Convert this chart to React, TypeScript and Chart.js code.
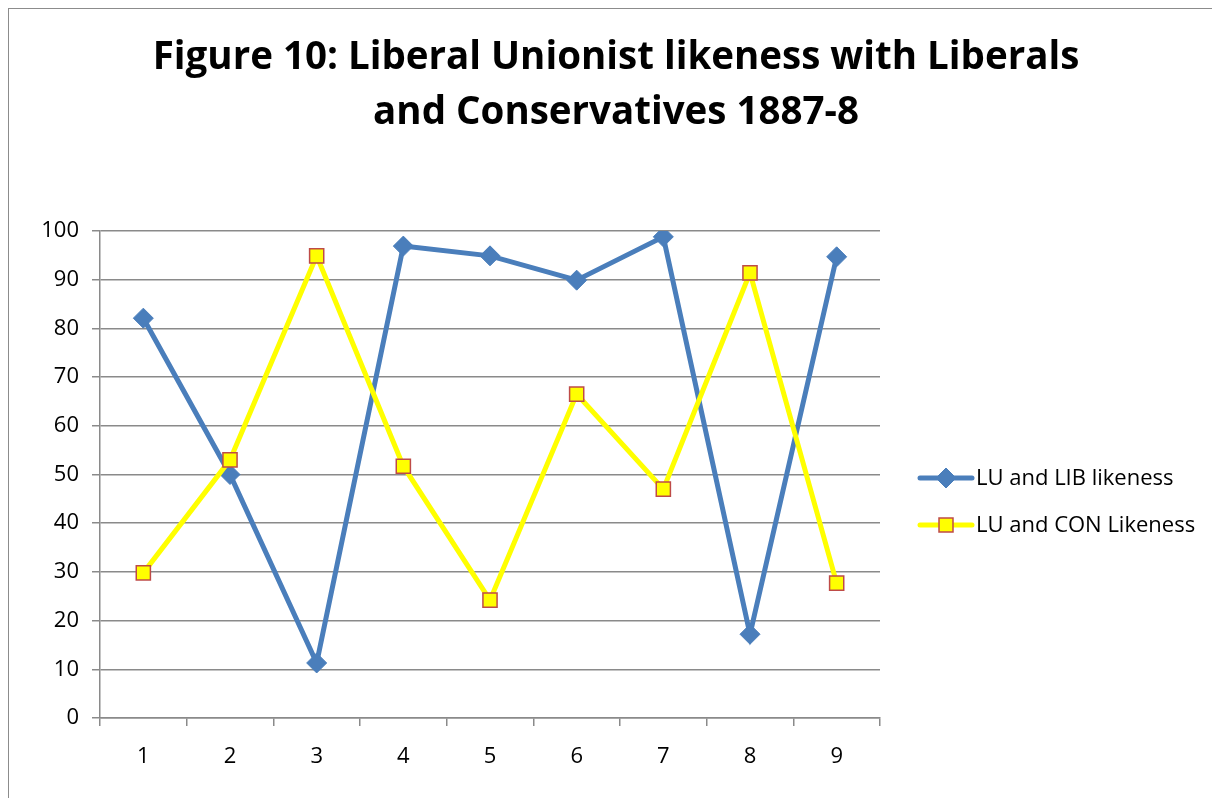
import React, { useEffect, useRef } from "react";
import { Chart, registerables } from "chart.js";

Chart.register(...registerables);

const categories = ["1", "2", "3", "4", "5", "6", "7", "8", "9"];
const libLikeness = [82.1, 50, 11.3, 96.9, 94.9, 89.9, 98.8, 17.2, 94.7];
const conLikeness = [29.8, 53, 94.9, 51.7, 24.2, 66.5, 47, 91.4, 27.7];
const seriesNames = ["LU and LIB likeness", "LU and CON Likeness"];
const titleLines = [
  "Figure 10: Liberal Unionist likeness with Liberals",
  "and Conservatives 1887-8",
];

const FONT = "'Open Sans', 'DejaVu Sans', sans-serif";
const BLUE = "#4A7EBB";
const YELLOW = "#FFFF00";
const MARKER_EDGE = "#BE4B48";
const GRID = "#8A8A8A";

const W = 1211;
const H = 789;

// Title and Excel-style legend (line with a marker) drawn straight onto the canvas
const decorations = {
  id: "decorations",
  afterDraw(chart: Chart) {
    const ctx = chart.ctx;
    ctx.save();
    ctx.fillStyle = "#000";
    ctx.textAlign = "center";
    ctx.textBaseline = "middle";
    ctx.font = `bold 38.5px ${FONT}`;
    ctx.fillText(titleLines[0], 607, 49);
    ctx.fillText(titleLines[1], 607, 104);

    const rows = [469, 516];
    chart.data.datasets.forEach((ds: any, i: number) => {
      const y = rows[i];
      ctx.strokeStyle = ds.borderColor;
      ctx.lineWidth = 5;
      ctx.lineCap = "round";
      ctx.beginPath();
      ctx.moveTo(911, y);
      ctx.lineTo(963, y);
      ctx.stroke();
      ctx.lineWidth = ds.pointBorderWidth;
      ctx.lineCap = "butt";
      ctx.fillStyle = ds.pointBackgroundColor;
      ctx.strokeStyle = ds.pointBorderColor;
      ctx.beginPath();
      if (ds.pointStyle === "rectRot") {
        const r = 10;
        ctx.moveTo(937, y - r);
        ctx.lineTo(937 + r, y);
        ctx.lineTo(937, y + r);
        ctx.lineTo(937 - r, y);
        ctx.closePath();
      } else {
        ctx.rect(937 - 7, y - 7, 14, 14);
      }
      ctx.fill();
      ctx.stroke();
      ctx.fillStyle = "#000";
      ctx.textAlign = "left";
      ctx.font = `22px ${FONT}`;
      ctx.fillText(ds.label, 967, y + 1);
    });
    ctx.restore();
  },
};

export default function App() {
  const canvasRef = useRef<HTMLCanvasElement | null>(null);

  useEffect(() => {
    if (!canvasRef.current) return;
    const chart = new Chart(canvasRef.current, {
      type: "line",
      data: {
        labels: categories,
        datasets: [
          {
            label: seriesNames[0],
            data: libLikeness,
            borderColor: BLUE,
            borderWidth: 5,
            pointStyle: "rectRot",
            pointRadius: 10,
            pointBackgroundColor: BLUE,
            pointBorderColor: BLUE,
            pointBorderWidth: 1,
            tension: 0,
            order: 1,
          },
          {
            label: seriesNames[1],
            data: conLikeness,
            borderColor: YELLOW,
            borderWidth: 5,
            pointStyle: "rect",
            pointRadius: 10,
            pointBackgroundColor: YELLOW,
            pointBorderColor: MARKER_EDGE,
            pointBorderWidth: 1.5,
            tension: 0,
            order: 0,
          },
        ],
      },
      options: {
        responsive: false,
        animation: false,
        devicePixelRatio: 1,
        layout: { padding: { top: 222, right: 340, left: 0, bottom: 0 } },
        plugins: {
          legend: { display: false },
          title: { display: false },
          tooltip: { enabled: false },
        },
        scales: {
          x: {
            offset: true,
            afterFit: (s: any) => {
              s.height = 80;
            },
            grid: {
              offset: true,
              drawOnChartArea: false,
              drawTicks: true,
              tickLength: 8,
              color: GRID,
              lineWidth: 1.5,
            },
            border: { color: GRID, width: 1.5 },
            ticks: {
              color: "#000",
              padding: 18,
              font: { family: FONT, size: 22 },
              maxRotation: 0,
            },
          },
          y: {
            min: 0,
            max: 100,
            afterFit: (s: any) => {
              s.width = 91;
            },
            grid: {
              color: GRID,
              lineWidth: 1.5,
              tickLength: 8,
            },
            border: { color: GRID, width: 1.5 },
            ticks: {
              stepSize: 10,
              color: "#000",
              padding: 13,
              font: { family: FONT, size: 22 },
            },
          },
        },
      },
      plugins: [decorations],
    });
    return () => chart.destroy();
  }, []);

  return (
    <div
      style={{
        position: "relative",
        boxSizing: "border-box",
        width: 1212,
        height: 790,
        borderLeft: "1px solid #8C8C8C",
        borderTop: "1px solid #8C8C8C",
        background: "#fff",
        overflow: "hidden",
      }}
    >
      <canvas ref={canvasRef} width={W} height={H} style={{ display: "block" }} />
    </div>
  );
}
